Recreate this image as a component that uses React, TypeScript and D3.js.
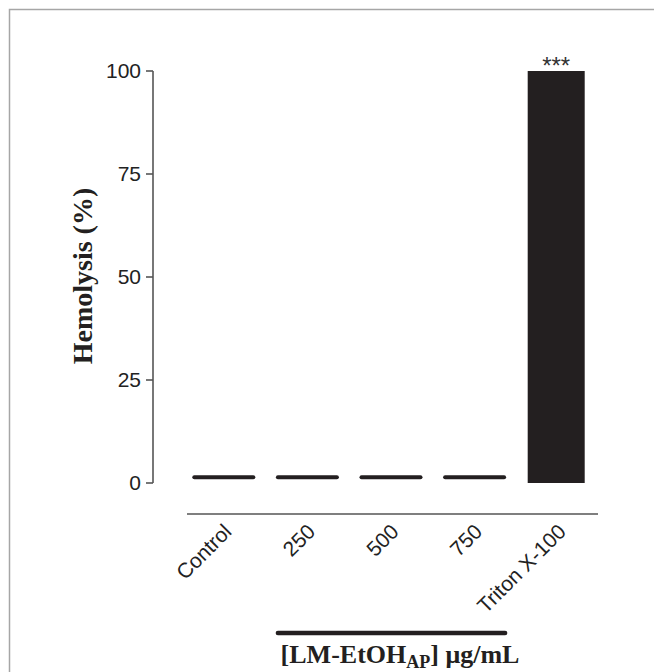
import React from "react";
import * as d3 from "d3";

const categories = ["Control", "250", "500", "750", "Triton X-100"];
const hemolysis = [1.4, 1.4, 1.4, 1.4, 100];
const yTicks = [0, 25, 50, 75, 100];
const significance = ["", "", "", "", "***"];
const bracketGroups = ["250", "750"];

const W = 654;
const H = 672;

export default function App() {
  const y = d3.scaleLinear().domain([0, 100]).range([483, 71]);
  const x = d3.scalePoint<string>().domain(categories).range([180, 598]).padding(0.5);
  const bw = 57;
  const axisX = 153;
  const sans = "'Liberation Sans', Arial, sans-serif";
  const serif = "'Liberation Serif', 'Times New Roman', serif";

  return (
    <svg width={W} height={H} style={{ position: "absolute", left: 0, top: 0, background: "#fff" }}>
      <rect x={9.5} y={9.5} width={800} height={800} fill="none" stroke="#a6a6a6" strokeWidth={1.5} />

      {/* y axis */}
      <line x1={axisX} x2={axisX} y1={y(100)} y2={y(0)} stroke="#555" strokeWidth={1.6} />
      {yTicks.map((t) => (
        <g key={t}>
          <line x1={axisX - 7} x2={axisX} y1={y(t)} y2={y(t)} stroke="#555" strokeWidth={1.6} />
          <text x={axisX - 12} y={y(t)} dy="0.35em" textAnchor="end" fontFamily={sans} fontSize={21} fill="#222">
            {t}
          </text>
        </g>
      ))}

      {/* bars */}
      {categories.map((c, i) => {
        const cx = x(c)!;
        const v = hemolysis[i];
        if (v < 5) {
          return (
            <line key={c} x1={cx - bw / 2 + 1} x2={cx + bw / 2 + 3} y1={y(v)} y2={y(v)}
              stroke="#231f20" strokeWidth={4} strokeLinecap="round" />
          );
        }
        return (
          <g key={c}>
            <rect x={cx - bw / 2} y={y(v)} width={bw} height={y(0) - y(v)} fill="#231f20" />
            <text x={cx} y={y(v) + 3} textAnchor="middle" fontFamily={sans} fontSize={24} fill="#333">
              {significance[i]}
            </text>
          </g>
        );
      })}

      {/* x axis */}
      <line x1={187} x2={598} y1={514} y2={514} stroke="#555" strokeWidth={1.6} />
      {categories.map((c) => (
        <text key={c} transform={`translate(${x(c)! + 11},${533}) rotate(-45)`} textAnchor="end"
          fontFamily={sans} fontSize={21} fill="#222">
          {c}
        </text>
      ))}

      {/* bracket */}
      <line x1={x(bracketGroups[0])! - bw / 2 + 1} x2={x(bracketGroups[1])! + bw / 2 + 4} y1={633} y2={633}
        stroke="#231f20" strokeWidth={4.5} strokeLinecap="round" />

      <text x={400} y={663} textAnchor="middle" fontFamily={serif} fontWeight="bold" fontSize={26} fill="#231f20">
        [LM-EtOH<tspan fontSize={18} dy={5}>AP</tspan><tspan dy={-5}>] μg/mL</tspan>
      </text>

      <text transform="translate(92,276) rotate(-90)" textAnchor="middle" fontFamily={serif} fontWeight="bold"
        fontSize={28} fill="#231f20">
        Hemolysis (%)
      </text>
    </svg>
  );
}
